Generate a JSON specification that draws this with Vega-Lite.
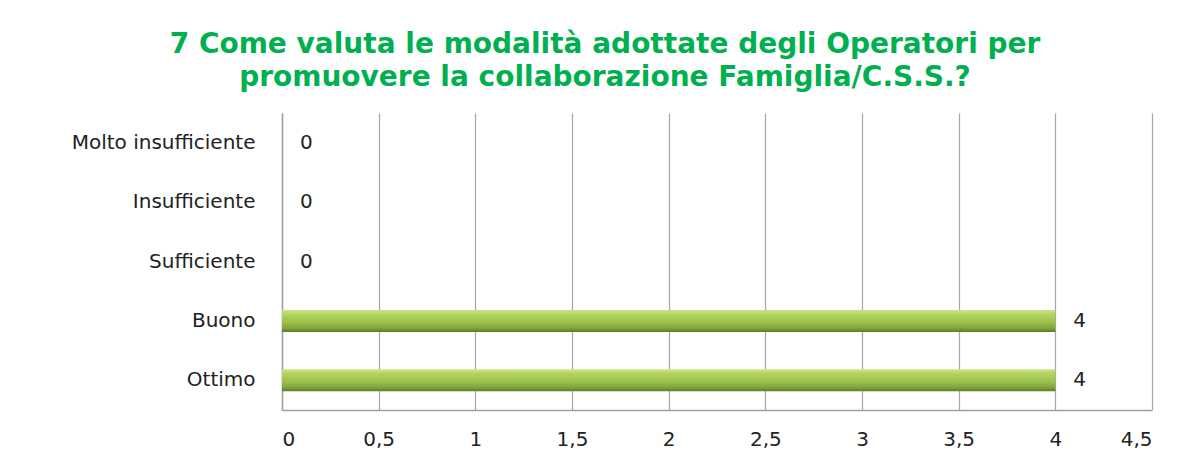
{
  "$schema": "https://vega.github.io/schema/vega-lite/v6.json",
  "width": 870,
  "height": 297,
  "autosize": {"type": "none"},
  "padding": {"left": 282, "top": 113, "right": 40, "bottom": 55},
  "background": "white",
  "title": {
    "text": ["7 Come valuta le modalità adottate degli Operatori per", "promuovere la collaborazione Famiglia/C.S.S.?"],
    "anchor": "middle",
    "frame": "group",
    "dx": -112,
    "offset": 21,
    "font": "DejaVu Sans",
    "fontSize": 28,
    "fontWeight": "bold",
    "color": "#00B050",
    "lineHeight": 33
  },
  "data": {
    "values": [
      {"categoria": "Molto insufficiente", "valore": 0},
      {"categoria": "Insufficiente", "valore": 0},
      {"categoria": "Sufficiente", "valore": 0},
      {"categoria": "Buono", "valore": 4},
      {"categoria": "Ottimo", "valore": 4}
    ]
  },
  "encoding": {
    "y": {
      "field": "categoria",
      "type": "nominal",
      "sort": null,
      "scale": {"paddingInner": 0.63, "paddingOuter": 0.315},
      "axis": {
        "title": null,
        "labelFont": "DejaVu Sans",
        "labelFontSize": 20,
        "labelLimit": 300,
        "labelColor": "#222222",
        "labelPadding": 27,
        "ticks": false,
        "domainColor": "#a0a0a0",
        "domainWidth": 1.5
      }
    },
    "x": {
      "field": "valore",
      "type": "quantitative",
      "scale": {"domain": [0, 4.5], "nice": false},
      "axis": {
        "title": null,
        "values": [0, 0.5, 1, 1.5, 2, 2.5, 3, 3.5, 4, 4.5],
        "labelExpr": "replace(format(datum.value, '~g'), '.', ',')",
        "labelFont": "DejaVu Sans",
        "labelFontSize": 20,
        "labelColor": "#222222",
        "labelPadding": 19,
        "ticks": false,
        "grid": true,
        "gridColor": "#a6a6a6",
        "gridWidth": 1.2,
        "domainColor": "#a0a0a0",
        "domainWidth": 1.5
      }
    }
  },
  "layer": [
    {
      "mark": {
        "type": "bar",
        "color": {
          "gradient": "linear",
          "x1": 0, "y1": 0, "x2": 0, "y2": 1,
          "stops": [
            {"offset": 0, "color": "#cbe68a"},
            {"offset": 0.2, "color": "#b2d462"},
            {"offset": 0.55, "color": "#9dc14d"},
            {"offset": 0.85, "color": "#80a039"},
            {"offset": 1, "color": "#5e782a"}
          ]
        }
      }
    },
    {
      "mark": {
        "type": "text",
        "align": "left",
        "baseline": "middle",
        "dx": 18,
        "font": "DejaVu Sans",
        "fontSize": 20,
        "color": "#222222"
      },
      "encoding": {
        "text": {"field": "valore", "type": "quantitative"}
      }
    }
  ],
  "config": {
    "view": {"stroke": null}
  }
}
